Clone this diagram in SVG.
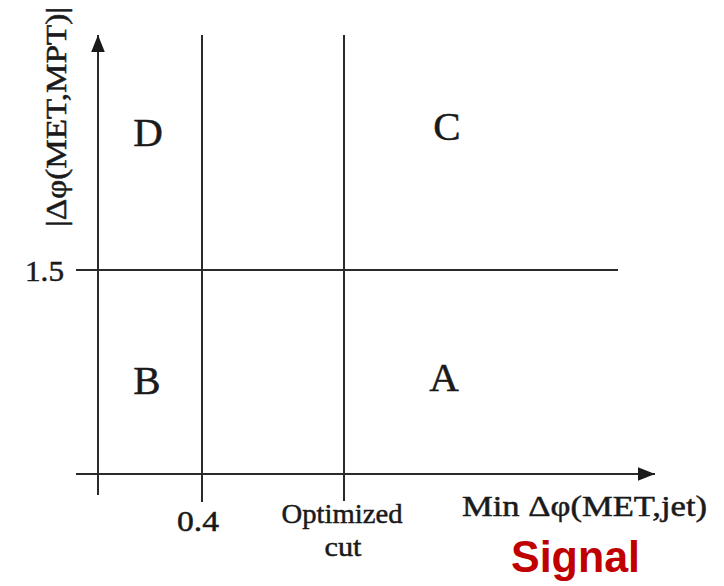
<svg xmlns="http://www.w3.org/2000/svg" width="724" height="586" viewBox="0 0 724 586">
<style>
.ln{stroke:#2a2a2a;stroke-width:2;fill:none}
.t{font-family:"Liberation Serif","Times New Roman",serif;fill:#1a1a1a;stroke:#1a1a1a;stroke-width:0.5}
.big{font-size:41px;text-anchor:middle}
</style>
<defs>
<marker id="ahb" viewBox="0 0 10 10" refX="10" refY="5" markerWidth="17" markerHeight="17" markerUnits="userSpaceOnUse" orient="auto">
<path d="M0,1 L10,5 L0,9 z" fill="#1a1a1a"/>
</marker>
</defs>
<rect width="724" height="586" fill="#fff"/>
<g id="connectors">
<line class="ln" x1="98" y1="495" x2="98" y2="35" marker-end="url(#ahb)"/>
<line class="ln" x1="76" y1="474" x2="655" y2="474" marker-end="url(#ahb)"/>
<line class="ln" x1="76" y1="270" x2="618" y2="270"/>
<line class="ln" x1="202" y1="35" x2="202" y2="502"/>
<line class="ln" x1="344" y1="35" x2="344" y2="501"/>
</g>
<g id="region-D"><text class="t big" x="148" y="146">D</text></g>
<g id="region-C"><text class="t big" x="447" y="140">C</text></g>
<g id="region-B"><text class="t big" x="147" y="394">B</text></g>
<g id="region-A"><text class="t big" x="444" y="391">A</text></g>
<g id="y-label"><text class="t" font-size="29" text-anchor="middle" transform="translate(66,117) rotate(-90)" textLength="220" lengthAdjust="spacingAndGlyphs">|Δφ(MET,MPT)|</text></g>
<g id="y-tick"><text class="t" font-size="30" x="64" y="281" text-anchor="end" textLength="39" lengthAdjust="spacingAndGlyphs">1.5</text></g>
<g id="x-tick-04"><text class="t" font-size="30" x="198" y="531" text-anchor="middle" textLength="42" lengthAdjust="spacingAndGlyphs">0.4</text></g>
<g id="x-tick-opt">
<text class="t" font-size="28" x="342" y="523" text-anchor="middle" textLength="121" lengthAdjust="spacingAndGlyphs">Optimized</text>
<text class="t" font-size="28" x="343" y="556" text-anchor="middle" textLength="37" lengthAdjust="spacingAndGlyphs">cut</text>
</g>
<g id="x-label"><text class="t" font-size="30" x="462" y="516" textLength="245" lengthAdjust="spacingAndGlyphs">Min Δφ(MET,jet)</text></g>
<g id="signal"><text x="511" y="572" font-family="'Liberation Sans',Arial,sans-serif" font-weight="bold" font-size="44" fill="#c00000" textLength="129" lengthAdjust="spacingAndGlyphs">Signal</text></g>
</svg>
